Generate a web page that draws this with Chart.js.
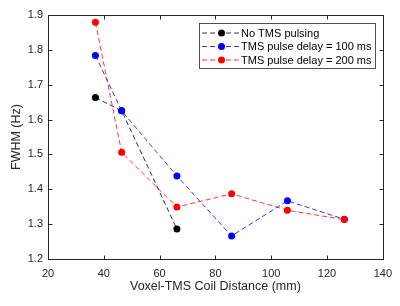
<!DOCTYPE html>
<html>
<head>
<meta charset="utf-8">
<script src="https://cdn.jsdelivr.net/npm/chart.js@4"></script>
<style>
  html, body { margin: 0; padding: 0; background: #ffffff; }
  #wrap { width: 400px; height: 306px; }
</style>
</head>
<body>
<div id="wrap"><canvas id="c" width="400" height="306"></canvas></div>
<script>
// ---- data ----
const distances = [37, 46.4, 66.2, 85.8, 105.8, 126.2];
const noTms    = [1.663, 1.625, 1.286];
const delay100 = [1.784, 1.625, 1.438, 1.266, 1.367, 1.314];
const delay200 = [1.879, 1.506, 1.349, 1.387, 1.340, 1.313];
const seriesLabels = ['No TMS pulsing', 'TMS pulse delay = 100 ms', 'TMS pulse delay = 200 ms'];
const seriesColors = ['#000000', '#0000ff', '#ff0000'];
const xTicks = [20, 40, 60, 80, 100, 120, 140];
const yTicks = [1.2, 1.3, 1.4, 1.5, 1.6, 1.7, 1.8, 1.9];

const FONT = '"Liberation Sans", Arial, Helvetica, sans-serif';
const AX = '#262626';

function pts(ys) { return ys.map((y, i) => ({ x: distances[i], y: y })); }

const allSeries = [noTms, delay100, delay200];
const datasets = allSeries.map((ys, i) => ({
  label: seriesLabels[i],
  data: pts(ys),
  borderColor: seriesColors[i],
  backgroundColor: seriesColors[i],
  pointBackgroundColor: seriesColors[i],
  pointBorderColor: seriesColors[i],
  pointRadius: 3.5,
  pointBorderWidth: 0,
  borderWidth: 0.8,
  borderDash: [5, 3],
  fill: false,
  tension: 0,
  order: 2 - i
}));

const boxPlugin = {
  id: 'boxPlugin',
  afterDraw(chart) {
    const ctx = chart.ctx;
    const a = chart.chartArea;
    const xs = chart.scales.x, ys = chart.scales.y;
    ctx.save();
    ctx.strokeStyle = AX;
    ctx.lineWidth = 1;
    ctx.setLineDash([]);
    const L = Math.round(a.left) + 0.5, R = Math.round(a.right) + 0.5;
    const T = Math.round(a.top) + 0.5, B = Math.round(a.bottom) + 0.5;
    ctx.strokeRect(L, T, R - L, B - T);
    const tl = 4;
    ctx.beginPath();
    xs.ticks.forEach(t => {
      const px = Math.round(xs.getPixelForValue(t.value)) + 0.5;
      ctx.moveTo(px, B); ctx.lineTo(px, B - tl);
      ctx.moveTo(px, T); ctx.lineTo(px, T + tl);
    });
    ys.ticks.forEach(t => {
      const py = Math.round(ys.getPixelForValue(t.value)) + 0.5;
      ctx.moveTo(L, py); ctx.lineTo(L + tl, py);
      ctx.moveTo(R, py); ctx.lineTo(R - tl, py);
    });
    ctx.stroke();

    // legend
    const lx = 199.5, ly = 23.5, lw = 176, lh = 45;
    ctx.fillStyle = '#ffffff';
    ctx.fillRect(lx, ly, lw, lh);
    ctx.strokeStyle = AX;
    ctx.lineWidth = 0.8;
    ctx.strokeRect(lx, ly, lw, lh);
    const rows = [33, 46.5, 60];
    ctx.font = '11px ' + FONT;
    ctx.textBaseline = 'middle';
    ctx.textAlign = 'left';
    chart.data.datasets.forEach((ds, i) => {
      const y = rows[i];
      ctx.strokeStyle = ds.borderColor;
      ctx.lineWidth = 0.8;
      ctx.setLineDash([5, 3]);
      ctx.beginPath();
      ctx.moveTo(202, y); ctx.lineTo(240, y);
      ctx.stroke();
      ctx.setLineDash([]);
      ctx.fillStyle = ds.borderColor;
      ctx.beginPath();
      ctx.arc(221.5, y, 3.5, 0, Math.PI * 2);
      ctx.fill();
      ctx.fillStyle = '#000000';
      ctx.fillText(ds.label, 241, y + 0.5);
    });
    ctx.restore();
  }
};

new Chart(document.getElementById('c'), {
  type: 'line',
  data: { datasets: datasets },
  options: {
    responsive: false,
    animation: false,
    devicePixelRatio: 1,
    layout: { padding: { left: 0, right: 16, top: 15, bottom: 0 } },
    plugins: { legend: { display: false }, tooltip: { enabled: false } },
    scales: {
      x: {
        type: 'linear',
        min: 20, max: 140,
        afterBuildTicks(s) { s.ticks = xTicks.map(v => ({ value: v })); },
        afterFit(s) { s.height = 47; },
        grid: { display: false, drawTicks: false },
        border: { display: false },
        ticks: {
          padding: 8,
          maxRotation: 0,
          autoSkip: false,
          color: AX,
          font: { family: FONT, size: 11 },
          callback: v => String(v)
        },
        title: {
          display: true,
          text: 'Voxel-TMS Coil Distance (mm)',
          color: AX,
          font: { family: FONT, size: 12.5 },
          padding: { top: 0, bottom: 12 }
        }
      },
      y: {
        type: 'linear',
        min: 1.2, max: 1.9,
        afterBuildTicks(s) { s.ticks = yTicks.map(v => ({ value: v })); },
        afterFit(s) { s.width = 48; },
        grid: { display: false, drawTicks: false },
        border: { display: false },
        ticks: {
          padding: 5,
          autoSkip: false,
          color: AX,
          font: { family: FONT, size: 11 },
          callback: v => Number(v).toFixed(1)
        },
        title: {
          display: true,
          text: 'FWHM (Hz)',
          color: AX,
          font: { family: FONT, size: 12.5 },
          padding: { top: 9, bottom: 0 }
        }
      }
    }
  },
  plugins: [boxPlugin]
});
</script>
</body>
</html>
